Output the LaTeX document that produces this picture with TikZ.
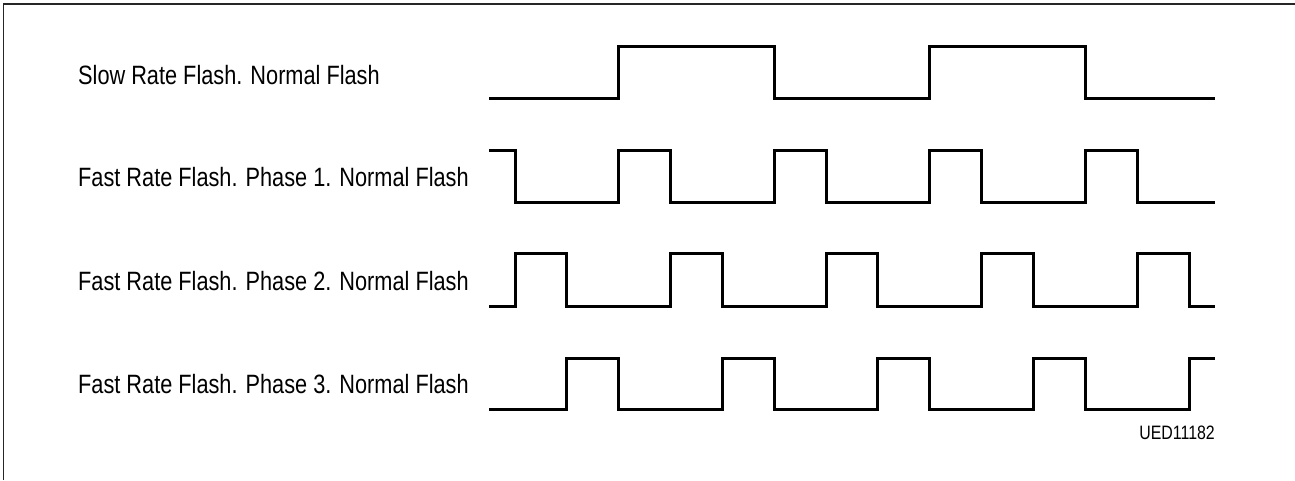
\documentclass[tikz,border=0pt]{standalone}
\usepackage{fontspec}
\setmainfont{Liberation Sans}[FakeStretch=0.82]
\usepackage{tikz}
\usetikzlibrary{positioning}

\begin{document}
\begin{tikzpicture}[
  x=1pt, y=-1pt,
  every node/.style={inner sep=0pt},
  lbl/.style={anchor=base west, font=\fontsize{26.5}{30}\selectfont},
  tag/.style={anchor=base east, font=\fontsize{19.4}{22}\selectfont},
  wave/.style={line width=3pt, line join=miter},
  frame/.style={line width=1.2pt, black!85}
]
\useasboundingbox (0,0) rectangle (1295,480);
% ---------- Frame ----------
\draw[frame] (3.5,480) -- (3.5,4) -- (1295,4);

% ---------- Labels ----------
\node[lbl] (slow) at (78,84) {Slow Rate Flash. Normal Flash};
\node[lbl] (phaseA) at (78,186) {Fast Rate Flash. Phase 1. Normal Flash};
\node[lbl] (phaseB) at (78,290) {Fast Rate Flash. Phase 2. Normal Flash};
\node[lbl] (phaseC) at (78,393) {Fast Rate Flash. Phase 3. Normal Flash};
\node[tag] (code) at (1215,439) {UED11182};

% ---------- Waveforms ----------
\begin{scope}[x=51.85pt, xshift=515pt]
% slow rate
\draw[wave] (-0.5,98) -| (2,46) -| (5,98) -| (8,46) -| (11,98) -- (13.5,98);
% phase 1
\draw[wave] (-0.5,150) -| (0,202) -| (2,150) -| (3,202) -| (5,150) -| (6,202)
  -| (8,150) -| (9,202) -| (11,150) -| (12,202) -- (13.5,202);
% phase 2
\draw[wave] (-0.5,306) -| (0,253) -| (1,306) -| (3,253) -| (4,306) -| (6,253)
  -| (7,306) -| (9,253) -| (10,306) -| (12,253) -| (13,306) -- (13.5,306);
% phase 3
\draw[wave] (-0.5,409) -| (1,358) -| (2,409) -| (4,358) -| (5,409) -| (7,358)
  -| (8,409) -| (10,358) -| (11,409) -| (13,358) -- (13.5,358);
\end{scope}
\end{tikzpicture}
\end{document}
